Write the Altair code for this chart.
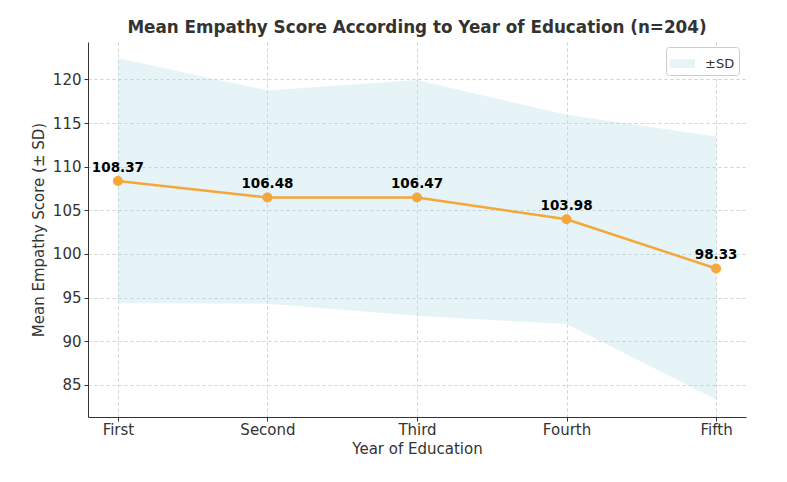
import altair as alt
import pandas as pd

years = ["First", "Second", "Third", "Fourth", "Fifth"]
means = [108.37, 106.48, 106.47, 103.98, 98.33]
upper = [122.45, 118.75, 119.95, 115.95, 113.45]
lower = [94.35, 94.3, 92.9, 91.95, 83.3]
labels = ["108.37", "106.48", "106.47", "103.98", "98.33"]

df = pd.DataFrame({"year": years, "mean": means, "upper": upper, "lower": lower,
                   "label": labels, "sd": ["±SD"] * len(years)})

FONT = "DejaVu Sans"
xscale = alt.Scale(domain=years, padding=0.2)
yscale = alt.Scale(domain=[81.3, 124.3], nice=False, zero=False)

xenc = alt.X("year:N", scale=xscale, sort=years, title="Year of Education",
             axis=alt.Axis(labelAngle=0, labelFontSize=15, labelColor="#333",
                           titleFontSize=15, titleColor="#333", titleFontWeight="normal",
                           labelPadding=1, titlePadding=4, tickSize=4, tickColor="#333",
                           domainColor="#333", grid=True, gridDash=[3, 3],
                           gridColor="#d0d0d0"))
yaxis = alt.Axis(values=[85, 90, 95, 100, 105, 110, 115, 120], labelFontSize=15,
                 labelColor="#333", titleFontSize=15, titleColor="#333",
                 titleFontWeight="normal", tickSize=4, tickColor="#333",
                 domainColor="#333", grid=True, gridDash=[3, 3], gridColor="#d0d0d0",
                 labelPadding=3, titlePadding=6)

band = alt.Chart(df).mark_area(opacity=0.3, interpolate="linear").encode(
    x=xenc,
    y=alt.Y("upper:Q", scale=yscale, axis=yaxis, title="Mean Empathy Score (± SD)"),
    y2="lower:Q",
    fill=alt.Fill("sd:N", scale=alt.Scale(range=["#add8e6"]),
                  legend=alt.Legend(title=None, orient="none", legendX=578, legendY=5,
                                    labelFontSize=13, labelColor="#333", labelFont=FONT,
                                    symbolType="M-1,-0.35H1V0.35H-1Z", symbolSize=620,
                                    symbolOpacity=0.3, symbolStrokeWidth=0,
                                    fillColor="white", strokeColor="#cccccc",
                                    cornerRadius=3, padding=4, labelOffset=10)),
)

line = alt.Chart(df).mark_line(color="#f4a73b", strokeWidth=2.5).encode(
    x=alt.X("year:N", scale=xscale, sort=years),
    y=alt.Y("mean:Q", scale=yscale),
)
pts = alt.Chart(df).mark_circle(color="#f4a73b", size=100, opacity=1).encode(
    x=alt.X("year:N", scale=xscale, sort=years),
    y=alt.Y("mean:Q", scale=yscale),
)
txt = alt.Chart(df).mark_text(fontWeight="bold", fontSize=13.5, color="black",
                              baseline="bottom", dy=-6, font=FONT).encode(
    x=alt.X("year:N", scale=xscale, sort=years),
    y=alt.Y("mean:Q", scale=yscale),
    text="label:N",
)

chart = alt.layer(band, line, pts, txt).properties(
    width=658, height=375,
    title=alt.TitleParams("Mean Empathy Score According to Year of Education (n=204)",
                          fontSize=16.8, fontWeight="bold", color="#333", font=FONT,
                          anchor="middle", offset=5),
    autosize=alt.AutoSizeParams(type="none"),
    padding={"left": 88, "top": 42, "right": 41, "bottom": 65},
).configure(font=FONT).configure_view(stroke=None)

chart.save("out.html", embed_options={"renderer": "svg", "actions": False})
